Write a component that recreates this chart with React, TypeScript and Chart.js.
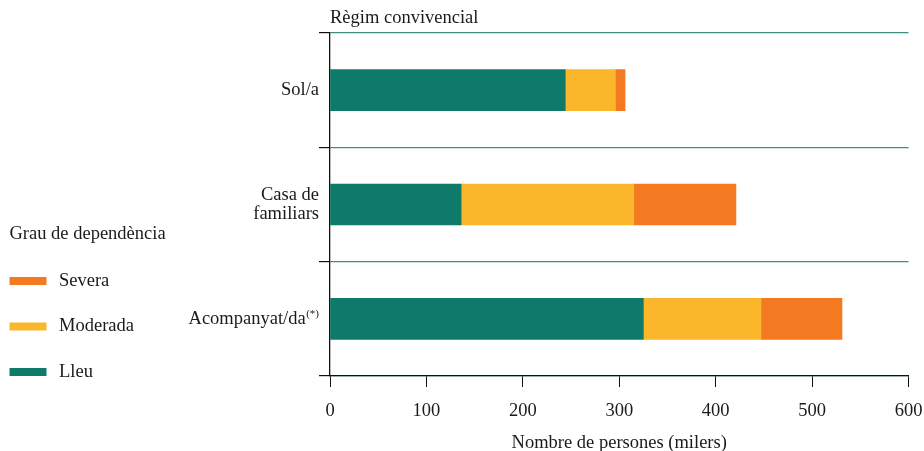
import React, { useEffect, useRef } from 'react';
import { Chart, registerables } from 'chart.js';

Chart.register(...registerables);

// ---- data ----
const categories: string[][] = [['Sol/a'], ['Casa de', 'familiars'], ['Acompanyat/da']];
const categoryNotes: string[] = ['', '', '(*)'];
const lleu: number[] = [244, 136, 325];
const moderada: number[] = [52, 179, 122];
const severa: number[] = [10, 106, 84];
const xMin = 0;
const xMax = 600;
const xStep = 100;
const chartTitle = 'Règim convivencial';
const legendTitle = 'Grau de dependència';
const xTitle = 'Nombre de persones (milers)';
const seriesNames = ['Lleu', 'Moderada', 'Severa'];

// ---- style ----
const FONT = "'Liberation Serif', 'Times New Roman', serif";
const FS = 18.5;
const TEXT = '#1a1a1a';
const COLORS = ['#0f7a6a', '#fbb72b', '#f47a22'];
const GRID = '#3f8f80';

const overlayPlugin = {
  id: 'overlay',
  afterDraw(chart: any) {
    const ctx = chart.ctx;
    const area = chart.chartArea;
    const y = chart.scales.y;
    ctx.save();
    ctx.fillStyle = TEXT;
    ctx.font = `${FS}px ${FONT}`;
    ctx.textBaseline = 'middle';
    ctx.textAlign = 'left';
    // title above plot
    ctx.fillText(chartTitle, area.left, area.top - 15);

    // labels with notes (superscript)
    const right = area.left - 11;
    categories.forEach((lab, i) => {
      const note = categoryNotes[i];
      if (!note) return;
      const py = y.getPixelForValue(i);
      ctx.font = `11px ${FONT}`;
      const nw = ctx.measureText(note).width;
      ctx.textAlign = 'right';
      ctx.fillText(note, right, py - 5);
      ctx.font = `${FS}px ${FONT}`;
      ctx.fillText(lab.join(' '), right - nw - 0.5, py);
    });

    // legend on the left
    ctx.textAlign = 'left';
    ctx.font = `${FS}px ${FONT}`;
    ctx.fillText(legendTitle, 9.5, 234);
    const ds = chart.data.datasets.slice().reverse();
    const ys = [281, 326.5, 372];
    ds.forEach((d: any, k: number) => {
      ctx.fillStyle = d.backgroundColor;
      ctx.fillRect(9.5, ys[k] - 4, 37, 8);
      ctx.fillStyle = TEXT;
      ctx.fillText(d.label, 59, ys[k]);
    });
    ctx.restore();
  },
};

export default function App() {
  const ref = useRef<HTMLCanvasElement | null>(null);
  useEffect(() => {
    if (!ref.current) return;
    const values = [lleu, moderada, severa];
    const chart = new Chart(ref.current, {
      type: 'bar',
      data: {
        labels: categories.map((c) => c.join(' ')),
        datasets: seriesNames.map((name, i) => ({
          label: name,
          data: values[i],
          backgroundColor: COLORS[i],
          borderWidth: 0,
          barThickness: 41,
        })),
      },
      options: {
        indexAxis: 'y',
        animation: false,
        responsive: true,
        maintainAspectRatio: false,
        layout: { padding: { top: 33, right: 15.5, left: 0, bottom: 0 } },
        plugins: {
          legend: { display: false },
          title: { display: false },
          tooltip: { enabled: false },
        },
        scales: {
          x: {
            stacked: true,
            min: xMin,
            max: xMax,
            ticks: {
              stepSize: xStep,
              color: TEXT,
              font: { family: FONT, size: FS },
              padding: 13,
              maxRotation: 0,
            },
            grid: {
              drawOnChartArea: false,
              drawTicks: true,
              tickLength: 11,
              tickColor: '#111',
            },
            border: { color: '#111', width: 1.3 },
            title: {
              display: true,
              text: xTitle,
              color: TEXT,
              font: { family: FONT, size: FS },
              padding: { top: 0, bottom: -3 },
            },
            afterFit: (s: any) => {
              s.height = 75;
              s.paddingLeft = 0;
              s.paddingRight = 0;
            },
          },
          y: {
            stacked: true,
            offset: true,
            ticks: {
              color: TEXT,
              font: { family: FONT, size: FS, lineHeight: 1.03 },
              padding: 0,
              callback: (_v: any, i: number) => (categoryNotes[i] ? '' : categories[i]),
            },
            grid: {
              offset: true,
              color: GRID,
              lineWidth: 1.2,
              tickLength: 11,
              tickColor: '#111',
            },
            border: { color: '#111', width: 1.3 },
            afterFit: (s: any) => {
              s.width = 330;
              s.paddingTop = 0;
              s.paddingBottom = 0;
            },
          },
        },
      },
      plugins: [overlayPlugin],
    });
    return () => chart.destroy();
  }, []);
  return (
    <div style={{ position: 'fixed', left: 0, top: 0, width: 924, height: 451, background: '#fff' }}>
      <canvas ref={ref} />
    </div>
  );
}
